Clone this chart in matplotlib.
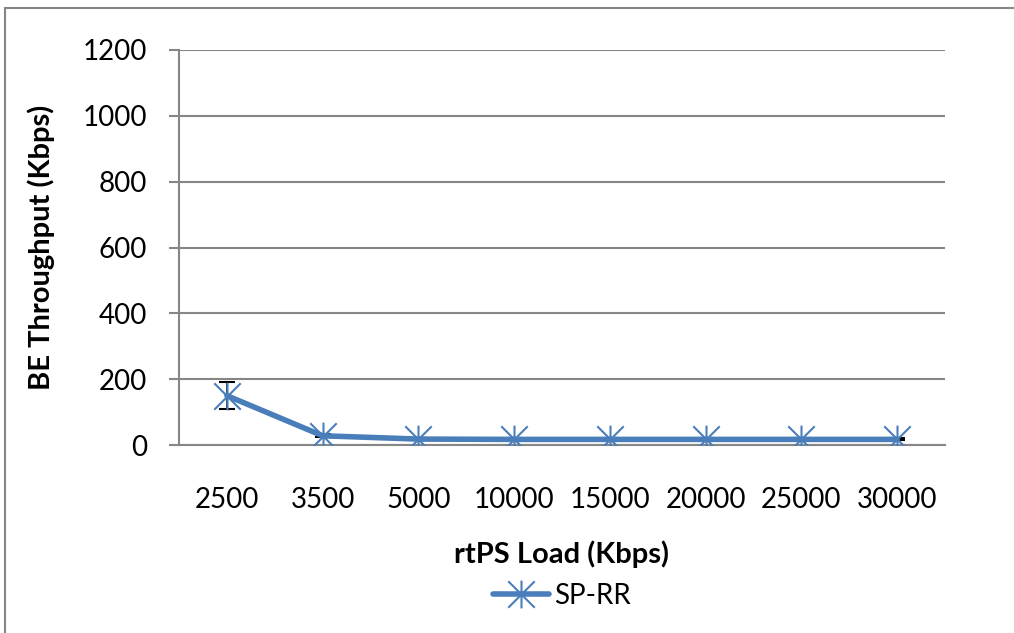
import matplotlib
matplotlib.use("Agg")
import matplotlib.pyplot as plt
from matplotlib.path import Path
from matplotlib.patches import Rectangle
import numpy as np

plt.rcParams['font.family'] = ['Lato', 'DejaVu Sans']

loads = ["2500", "3500", "5000", "10000", "15000", "20000", "25000", "30000"]
throughput = [150, 28, 18, 17, 17, 17, 17, 17]
errors = [42, 4, 3, 3, 3, 3, 3, 3]
y_ticks = [0, 200, 400, 600, 800, 1000, 1200]

blue = "#4A7EBB"
grey = "#868686"

# asterisk marker: an X with a vertical stroke
star = Path(
    [(-1, -1), (1, 1), (-1, 1), (1, -1), (0, -1.05), (0, 1.05)],
    [Path.MOVETO, Path.LINETO, Path.MOVETO, Path.LINETO, Path.MOVETO, Path.LINETO],
)

W, H = 1014, 633
fig = plt.figure(figsize=(W / 100, H / 100), dpi=100)
ax = fig.add_axes([179 / W, 1 - 445 / H, (945 - 179) / W, (445 - 50) / H])

x = np.arange(len(loads))
ax.errorbar(x, throughput, yerr=errors, fmt="none", ecolor="black",
            elinewidth=1.2, capsize=6, capthick=1.5, zorder=3)
ax.plot(x, throughput, color=blue, lw=4, solid_capstyle="round",
        marker=star, markersize=20, markeredgewidth=1.5,
        markeredgecolor=blue, markerfacecolor="none", zorder=4,
        label="SP-RR")

ax.set_xlim(-0.5, len(loads) - 0.5)
ax.set_ylim(0, 1200)
ax.set_yticks(y_ticks)
ax.set_xticks(x)
ax.set_xticklabels(loads)
ax.tick_params(axis="y", length=7, width=1.5, color=grey, pad=16, labelsize=20)
ax.tick_params(axis="x", length=0, pad=30, labelsize=20)
ax.yaxis.grid(True, color=grey, lw=1.5)
ax.set_axisbelow(True)
for s in ["top", "right"]:
    ax.spines[s].set_visible(False)
for s in ["left", "bottom"]:
    ax.spines[s].set_color(grey)
    ax.spines[s].set_linewidth(1.5)

ax.set_xlabel("rtPS Load (Kbps)", fontsize=21, fontweight="bold", labelpad=20)
ax.set_ylabel("BE Throughput (Kbps)", fontsize=21, fontweight="bold", labelpad=20)

fig.legend(loc="center", bbox_to_anchor=(562 / W, 1 - 596 / H), frameon=False,
           fontsize=20, handlelength=2.0, handletextpad=0.2)

# chart frame
fig.patches.append(Rectangle((5 / W, -0.1), 1.2, 1 - 8 / H + 0.1,
                             transform=fig.transFigure, fill=False,
                             edgecolor=grey, lw=1.5))

fig.savefig("out.png", dpi=100)
